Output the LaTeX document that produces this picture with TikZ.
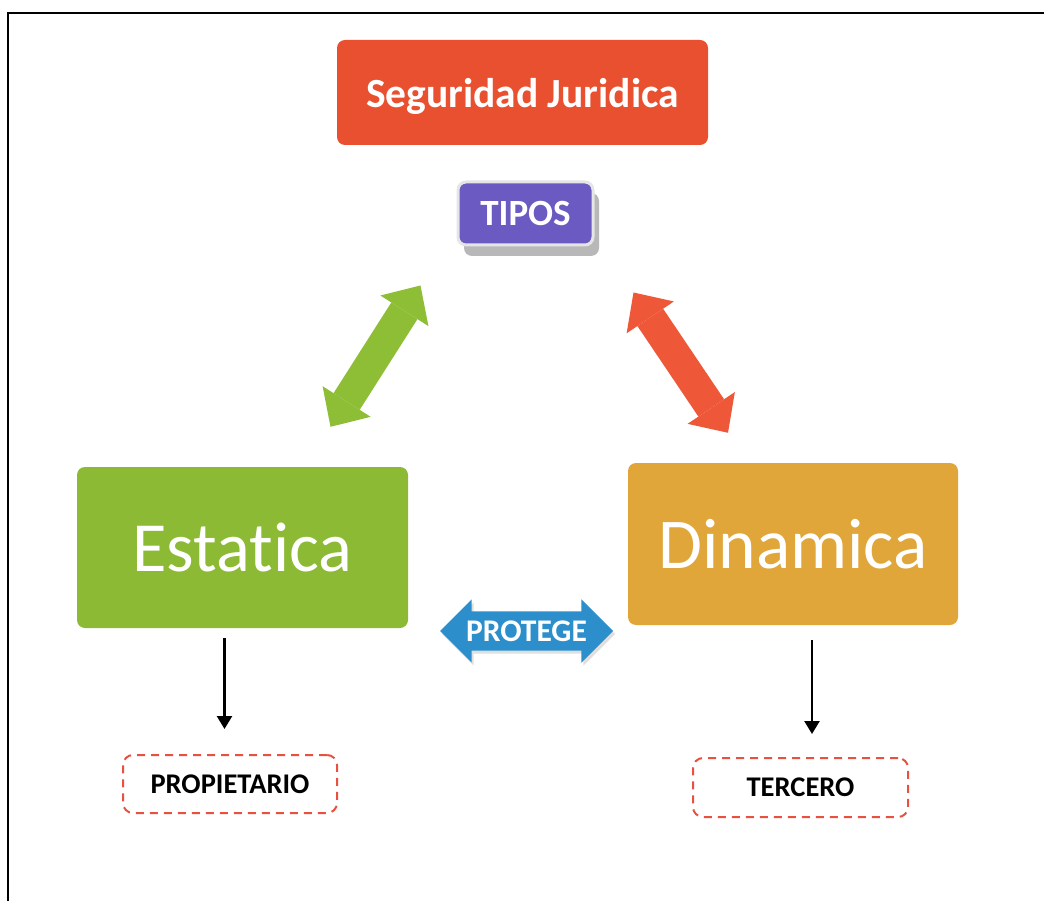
\documentclass[tikz,border=0pt]{standalone}
\usepackage{fontspec}
\setmainfont{Carlito}[Ligatures=NoCommon]
\usetikzlibrary{shapes.arrows,arrows.meta,shadows,calc}
\definecolor{segred}{HTML}{E8502F}
\definecolor{tipospurple}{HTML}{6A5AC2}
\definecolor{estgreen}{HTML}{8CBA34}
\definecolor{dinorange}{HTML}{E0A63A}
\definecolor{protblue}{HTML}{2C8FCC}
\definecolor{arrgreen}{HTML}{8DBE36}
\definecolor{arrred}{HTML}{EE5838}
\definecolor{dashred}{HTML}{E85040}
\tikzset{
	cbox/.style 2 args={rectangle,rounded corners=8pt,fill=#1,text=white,font=#2,inner sep=0pt,text depth=0pt},
	dbox/.style={rectangle,rounded corners=10pt,draw=dashred,line width=2pt,dash pattern=on 8pt off 6pt,font=\fontsize{28.5}{32}\selectfont\bfseries,text depth=0pt},
	fat/.style={line width=31pt,draw=#1,{Triangle[length=30pt,width=57pt,line width=0pt]}-{Triangle[length=30pt,width=57pt,line width=0pt]}},
	darr/.style={line width=2.5pt,-{Triangle[length=13pt,width=15pt]}}
}
\begin{document}
\begin{tikzpicture}[x=1pt,y=-1pt]
	\useasboundingbox (0,0) rectangle (1044,901);
	\draw[line width=2pt] (8,901) -- (8,13) -- (1044,13);

	\node (seg) [cbox={segred}{\fontsize{41.5}{46}\selectfont\bfseries},minimum width=371pt,minimum height=105pt] at (522.5,92.5) {Seguridad Juridica};
	\node (tipos) [cbox={tipospurple}{\fontsize{37}{40}\selectfont\bfseries},minimum width=135pt,minimum height=63pt,draw=gray!20,line width=3pt,drop shadow={shadow xshift=6pt,shadow yshift=-11pt,fill=gray!70,opacity=.8}] at (525.5,213.5) {TIPOS};
	\node (est) [cbox={estgreen}{\fontsize{70.5}{74}\selectfont},minimum width=331pt,minimum height=161pt] at (242.5,547.5) {Estatica};
	\node (din) [cbox={dinorange}{\fontsize{71.5}{75}\selectfont},minimum width=330pt,minimum height=162pt] at (793,544) {Dinamica};
	\node (prot) [double arrow,fill=protblue,text=white,font=\fontsize{31.5}{34}\selectfont\bfseries,double arrow head extend=12pt,minimum height=173pt,inner xsep=0pt,inner ysep=9pt,text depth=0pt,drop shadow={shadow xshift=2pt,shadow yshift=-3pt,opacity=.25}] at (526.5,631) {PROTEGE};
	\node (prop) [dbox,minimum width=214pt,minimum height=58pt] at (230,784) {PROPIETARIO};
	\node (terc) [dbox,minimum width=215pt,minimum height=59pt] at (800.5,787.5) {TERCERO};

	\coordinate (gl) at ($(est.north)+(88,-40)$);
	\coordinate (gu) at ($(tipos.south)+(-105,39)$);
	\coordinate (rl) at ($(din.north)+(-65,-30)$);
	\coordinate (ru) at ($(tipos.south)+(108,46)$);
	\draw[fat=arrgreen] (gl) -- (gu);
	\draw[fat=arrred] (ru) -- (rl);

	\draw[darr,shorten <=10pt,shorten >=25pt] ([xshift=-18pt]est.south) -- ([xshift=-18pt]est.south |- prop.north);
	\draw[darr,shorten <=15pt,shorten >=23pt] ([xshift=19pt]din.south) -- ([xshift=19pt]din.south |- terc.north);
\end{tikzpicture}
\end{document}
